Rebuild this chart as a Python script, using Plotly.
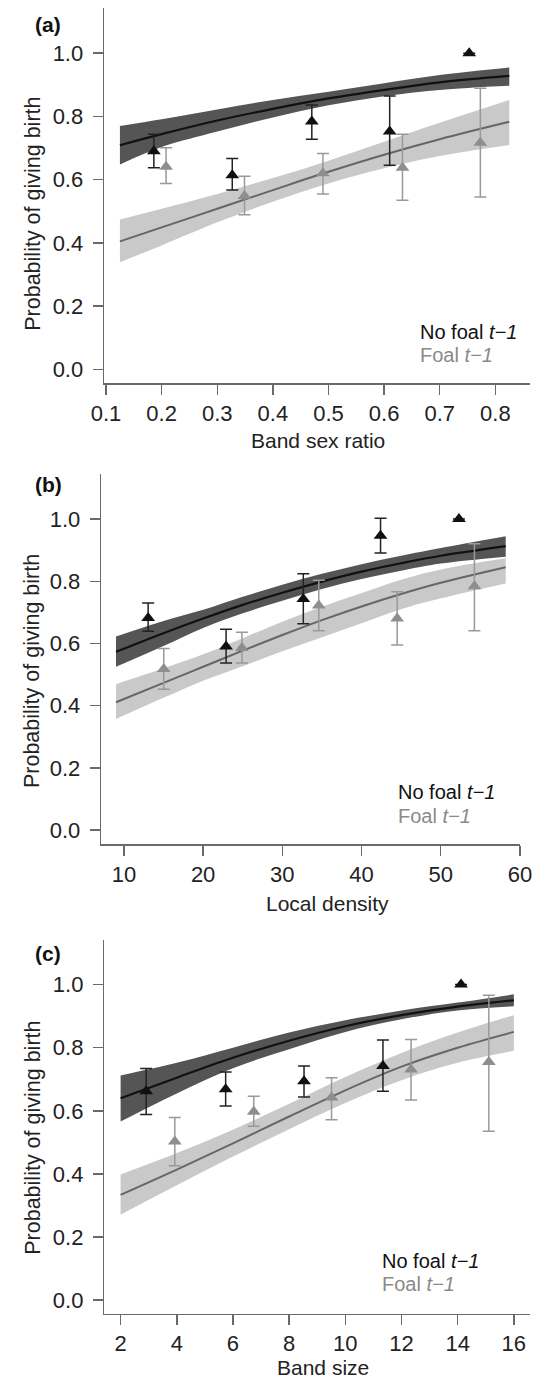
import plotly.graph_objects as go

# ---------------- Panel (a): Band sex ratio ----------------
a_curve_x = [0.125, 0.2, 0.3, 0.4, 0.5, 0.6, 0.7, 0.825]
a_nofoal_fit = [0.709, 0.744, 0.787, 0.824, 0.857, 0.884, 0.908, 0.928]
a_nofoal_lo = [0.648, 0.703, 0.752, 0.797, 0.835, 0.864, 0.884, 0.897]
a_nofoal_hi = [0.770, 0.791, 0.822, 0.852, 0.878, 0.905, 0.931, 0.955]
a_foal_fit = [0.405, 0.449, 0.508, 0.567, 0.625, 0.679, 0.728, 0.783]
a_foal_lo = [0.339, 0.392, 0.465, 0.530, 0.588, 0.636, 0.675, 0.710]
a_foal_hi = [0.474, 0.508, 0.555, 0.605, 0.660, 0.720, 0.780, 0.852]

a_nofoal_x = [0.186, 0.327, 0.470, 0.610, 0.753]
a_nofoal_y = [0.690, 0.614, 0.784, 0.752, 1.000]
a_nofoal_up = [0.744, 0.667, 0.836, 0.865, 1.000]
a_nofoal_dn = [0.638, 0.567, 0.728, 0.646, 1.000]
a_foal_x = [0.208, 0.349, 0.490, 0.633, 0.773]
a_foal_y = [0.641, 0.548, 0.620, 0.638, 0.717]
a_foal_up = [0.701, 0.611, 0.683, 0.744, 0.889]
a_foal_dn = [0.588, 0.489, 0.555, 0.535, 0.545]

# ---------------- Panel (b): Local density ----------------
b_curve_x = [9.0, 15, 20, 25, 30, 35, 40, 45, 50, 58.2]
b_nofoal_fit = [0.573, 0.633, 0.680, 0.724, 0.763, 0.799, 0.831, 0.858, 0.882, 0.913]
b_nofoal_lo = [0.525, 0.592, 0.650, 0.697, 0.737, 0.775, 0.807, 0.834, 0.857, 0.879]
b_nofoal_hi = [0.622, 0.672, 0.708, 0.750, 0.789, 0.824, 0.855, 0.882, 0.907, 0.945]
b_foal_fit = [0.411, 0.473, 0.525, 0.577, 0.627, 0.675, 0.719, 0.759, 0.795, 0.845]
b_foal_lo = [0.357, 0.425, 0.480, 0.527, 0.575, 0.620, 0.665, 0.710, 0.745, 0.793]
b_foal_hi = [0.469, 0.520, 0.565, 0.617, 0.670, 0.718, 0.762, 0.805, 0.838, 0.874]

b_nofoal_x = [13.06, 22.9, 32.65, 42.4, 52.3]
b_nofoal_y = [0.682, 0.590, 0.743, 0.946, 1.000]
b_nofoal_up = [0.730, 0.646, 0.824, 1.003, 1.000]
b_nofoal_dn = [0.639, 0.537, 0.663, 0.891, 1.000]
b_foal_x = [15.03, 24.9, 34.6, 44.5, 54.25]
b_foal_y = [0.518, 0.585, 0.722, 0.680, 0.784]
b_foal_up = [0.584, 0.636, 0.803, 0.766, 0.921]
b_foal_dn = [0.453, 0.537, 0.641, 0.595, 0.641]

# ---------------- Panel (c): Band size ----------------
c_curve_x = [2.0, 4, 6, 8, 10, 12, 14, 16]
c_nofoal_fit = [0.640, 0.705, 0.768, 0.822, 0.868, 0.903, 0.930, 0.950]
c_nofoal_lo = [0.566, 0.655, 0.735, 0.795, 0.850, 0.890, 0.918, 0.931]
c_nofoal_hi = [0.712, 0.752, 0.800, 0.848, 0.887, 0.918, 0.943, 0.969]
c_foal_fit = [0.334, 0.414, 0.497, 0.582, 0.665, 0.740, 0.800, 0.850]
c_foal_lo = [0.271, 0.364, 0.455, 0.542, 0.625, 0.697, 0.752, 0.790]
c_foal_hi = [0.398, 0.466, 0.540, 0.622, 0.707, 0.783, 0.848, 0.903]

c_nofoal_x = [2.91, 5.74, 8.53, 11.34, 14.12]
c_nofoal_y = [0.662, 0.668, 0.694, 0.742, 1.000]
c_nofoal_up = [0.734, 0.723, 0.742, 0.824, 1.000]
c_nofoal_dn = [0.588, 0.615, 0.644, 0.662, 1.000]
c_foal_x = [3.93, 6.74, 9.51, 12.34, 15.11]
c_foal_y = [0.503, 0.597, 0.642, 0.731, 0.755]
c_foal_up = [0.579, 0.646, 0.705, 0.826, 0.966]
c_foal_dn = [0.426, 0.551, 0.572, 0.634, 0.535]

x_titles = ["Band sex ratio", "Local density", "Band size"]
panel_tags = ["(a)", "(b)", "(c)"]
y_title = "Probability of giving birth"
legend_labels = ["No foal <i>t\u22121</i>", "Foal <i>t\u22121</i>"]

FONT = "Liberation Sans, Arial, sans-serif"
DARK_BAND = "#555555"
LIGHT_BAND = "#c9c9c9"
DARK_LINE = "#111111"
LIGHT_LINE = "#666666"
DARK_PT = "#111111"
LIGHT_PT = "#8e8e8e"
AXIS_COL = "#6a6a6a"

panels = [
    dict(cx=a_curve_x, nf=a_nofoal_fit, nlo=a_nofoal_lo, nhi=a_nofoal_hi,
         ff=a_foal_fit, flo=a_foal_lo, fhi=a_foal_hi,
         px=a_nofoal_x, py=a_nofoal_y, pu=a_nofoal_up, pd=a_nofoal_dn,
         qx=a_foal_x, qy=a_foal_y, qu=a_foal_up, qd=a_foal_dn),
    dict(cx=b_curve_x, nf=b_nofoal_fit, nlo=b_nofoal_lo, nhi=b_nofoal_hi,
         ff=b_foal_fit, flo=b_foal_lo, fhi=b_foal_hi,
         px=b_nofoal_x, py=b_nofoal_y, pu=b_nofoal_up, pd=b_nofoal_dn,
         qx=b_foal_x, qy=b_foal_y, qu=b_foal_up, qd=b_foal_dn),
    dict(cx=c_curve_x, nf=c_nofoal_fit, nlo=c_nofoal_lo, nhi=c_nofoal_hi,
         ff=c_foal_fit, flo=c_foal_lo, fhi=c_foal_hi,
         px=c_nofoal_x, py=c_nofoal_y, pu=c_nofoal_up, pd=c_nofoal_dn,
         qx=c_foal_x, qy=c_foal_y, qu=c_foal_up, qd=c_foal_dn),
]

W, H = 545, 1378
# pixel layout of each panel: (left, right, top, bottom)
boxes = [(95.5, 541.7, 8.3, 383.3), (92.5, 531.5, 474.0, 844.3), (95.7, 541.7, 939.7, 1313.5)]
xranges = [[0.0966, 0.862], [7.14, 60.02], [1.42, 16.57]]
yranges = [[-0.044, 1.142], [-0.046, 1.145], [-0.042, 1.142]]
xdticks = [0.1, 10, 2]
xfmts = [".1f", "d", "d"]

fig = go.Figure()

for i, p in enumerate(panels):
    xa = "x" if i == 0 else f"x{i+1}"
    ya = "y" if i == 0 else f"y{i+1}"
    # bands
    for lo, hi, col in [(p["flo"], p["fhi"], LIGHT_BAND), (p["nlo"], p["nhi"], DARK_BAND)]:
        fig.add_trace(go.Scatter(x=p["cx"], y=lo, mode="lines", line=dict(width=0, shape="spline"),
                                 xaxis=xa, yaxis=ya, showlegend=False, hoverinfo="skip"))
        fig.add_trace(go.Scatter(x=p["cx"], y=hi, mode="lines", line=dict(width=0, shape="spline"),
                                 fill="tonexty", fillcolor=col, xaxis=xa, yaxis=ya,
                                 showlegend=False, hoverinfo="skip"))
    # fitted lines
    fig.add_trace(go.Scatter(x=p["cx"], y=p["ff"], mode="lines",
                             line=dict(color=LIGHT_LINE, width=2, shape="spline"),
                             xaxis=xa, yaxis=ya, showlegend=False))
    fig.add_trace(go.Scatter(x=p["cx"], y=p["nf"], mode="lines",
                             line=dict(color=DARK_LINE, width=2.2, shape="spline"),
                             xaxis=xa, yaxis=ya, showlegend=False))
    # points with error bars
    for xs, ys, up, dn, col, ecol in [(p["qx"], p["qy"], p["qu"], p["qd"], LIGHT_PT, "#999999"),
                                      (p["px"], p["py"], p["pu"], p["pd"], DARK_PT, "#222222")]:
        ep = [u - y for u, y in zip(up, ys)]
        em = [y - d for y, d in zip(ys, dn)]
        fig.add_trace(go.Scatter(
            x=xs, y=ys, mode="markers",
            marker=dict(symbol="triangle-up", size=12, color=col),
            error_y=dict(type="data", symmetric=False, array=ep, arrayminus=em,
                         color=ecol, thickness=1.5, width=6),
            xaxis=xa, yaxis=ya, showlegend=False))

    l, r, t, b = boxes[i]
    axis_common = dict(showgrid=False, zeroline=False, showline=True, linecolor=AXIS_COL,
                       linewidth=1.5, ticks="outside", ticklen=10, tickwidth=1.5,
                       tickcolor=AXIS_COL, tickfont=dict(family=FONT, size=22, color="#222222"),
                       fixedrange=True)
    fig.layout[("xaxis" if i == 0 else f"xaxis{i+1}")] = dict(
        domain=[l / W, r / W], anchor=ya, range=xranges[i], tick0=0, dtick=xdticks[i],
        tickformat=xfmts[i], ticklabelstandoff=0, **axis_common)
    fig.layout[("yaxis" if i == 0 else f"yaxis{i+1}")] = dict(
        domain=[1 - b / H, 1 - t / H], anchor=xa, range=yranges[i], tick0=0, dtick=0.2,
        tickformat=".1f", ticklabelstandoff=5, **axis_common)

annotations = []
# y titles
for yc in [214, 671.3, 1138]:
    annotations.append(dict(text=y_title, x=20.7 / W, y=1 - yc / H, xref="paper", yref="paper",
                            textangle=-90, showarrow=False, xanchor="center", yanchor="middle",
                            font=dict(family=FONT, size=21.5, color="#222222")))
# x titles
for txt, (xc, yc) in zip(x_titles, [(319.5, 440.7), (330, 903.3), (325, 1367.0)]):
    annotations.append(dict(text=txt, x=xc / W, y=1 - yc / H, xref="paper", yref="paper",
                            showarrow=False, xanchor="center", yanchor="middle",
                            font=dict(family=FONT, size=21, color="#222222")))
# panel tags
for txt, yc in zip(panel_tags, [24, 485, 953]):
    annotations.append(dict(text="<b>" + txt + "</b>", x=21 / W, y=1 - yc / H, xref="paper", yref="paper",
                            showarrow=False, xanchor="left", yanchor="middle",
                            font=dict(family=FONT, size=21, color="#111111")))
# legend texts (data coordinates)
leg_pos = [(0.661, 0.118, 0.045), (44.4, 0.121, 0.046), (11.25, 0.123, 0.050)]
for i, (lx, ly1, ly2) in enumerate(leg_pos):
    xa = "x" if i == 0 else f"x{i+1}"
    ya = "y" if i == 0 else f"y{i+1}"
    annotations.append(dict(text=legend_labels[0], x=lx, y=ly1, xref=xa, yref=ya, showarrow=False,
                            xanchor="left", yanchor="middle",
                            font=dict(family=FONT, size=20, color="#111111")))
    annotations.append(dict(text=legend_labels[1], x=lx, y=ly2, xref=xa, yref=ya, showarrow=False,
                            xanchor="left", yanchor="middle",
                            font=dict(family=FONT, size=20, color="#8a8a8a")))

fig.update_layout(width=W, height=H, margin=dict(l=0, r=0, t=0, b=0),
                  paper_bgcolor="white", plot_bgcolor="white", annotations=annotations,
                  showlegend=False)

fig.write_html("out.html", config={"displayModeBar": False, "staticPlot": True},
               post_script="document.body.style.margin='0px';document.body.style.overflow='hidden';")
